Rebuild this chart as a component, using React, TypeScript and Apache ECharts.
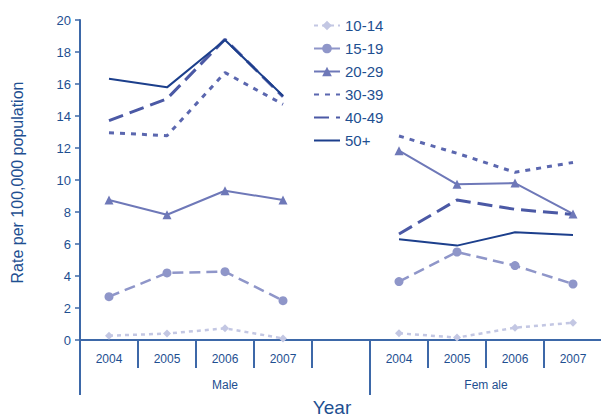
import React, { useEffect, useRef } from "react";
import * as echarts from "echarts";

const categories = ["2004", "2005", "2006", "2007", "", "2004", "2005", "2006", "2007"];
const groupLabels = ["Male", "Fem ale"];
const seriesNames = ["10-14", "15-19", "20-29", "30-39", "40-49", "50+"];
const s1014 = [0.27, 0.4, 0.73, 0.1, null, 0.42, 0.15, 0.77, 1.08];
const s1519 = [2.71, 4.19, 4.27, 2.46, null, 3.65, 5.5, 4.65, 3.5];
const s2029 = [8.75, 7.83, 9.33, 8.75, null, 11.83, 9.73, 9.81, 7.88];
const s3039 = [12.96, 12.77, 16.71, 14.73, null, 12.75, 11.67, 10.48, 11.1];
const s4049 = [13.71, 15.08, 18.8, 15.2, null, 6.63, 8.75, 8.17, 7.85];
const s50p = [16.33, 15.79, 18.75, 15.27, null, 6.29, 5.9, 6.73, 6.56];

const TEXT = "#1e4f91";
const AXIS = "#3d68a8";

export default function App() {
  const ref = useRef<HTMLDivElement>(null);
  useEffect(() => {
    if (!ref.current) return;
    const chart = echarts.init(ref.current, undefined, { renderer: "svg" });
    const font = "Liberation Sans, Arial, sans-serif";
    const mk = (
      name: string,
      data: (number | null)[],
      color: string,
      width: number,
      type: any,
      symbol: string,
      symbolSize: number
    ) => ({
      name,
      type: "line",
      data,
      xAxisIndex: 0,
      yAxisIndex: 0,
      connectNulls: false,
      symbol,
      symbolSize,
      showSymbol: symbol !== "none",
      itemStyle: { color },
      lineStyle: { color, width, type },
    });
    chart.setOption({
      animation: false,
      textStyle: { fontFamily: font },
      grid: { left: 80, top: 20, width: 522, height: 320, outerBoundsMode: "none", containLabel: false },
      legend: {
        orient: "vertical",
        left: 308,
        top: 13,
        itemWidth: 26,
        itemHeight: 12,
        itemGap: 8,
        textStyle: { color: TEXT, fontSize: 15, fontFamily: font },
        data: seriesNames.map((n, i) =>
          i >= 3 ? { name: n, itemStyle: { opacity: 0 } } : { name: n }
        ),
      },
      xAxis: [
        {
          type: "category",
          data: categories,
          boundaryGap: true,
          axisLine: { lineStyle: { color: AXIS, width: 2 } },
          axisTick: { show: true, length: 28, lineStyle: { color: AXIS, width: 2 } },
          axisLabel: { color: TEXT, fontSize: 12, margin: 13, interval: 0 },
          name: "Year",
          nameLocation: "middle",
          nameGap: 58,
          nameTextStyle: { color: TEXT, fontSize: 19, padding: [0, 18, 0, 0] },
        },
        {
          type: "value",
          min: 0,
          max: 9,
          position: "bottom",
          axisLine: { show: false },
          splitLine: { show: false },
          axisTick: {
            show: true,
            length: 55,
            customValues: [0, 5],
            lineStyle: { color: AXIS, width: 2 },
          },
          axisLabel: {
            show: true,
            customValues: [2.5, 7],
            margin: 39,
            color: TEXT,
            fontSize: 12,
            formatter: (v: number) => (v < 5 ? groupLabels[0] : groupLabels[1]),
          },
        },
      ],
      yAxis: {
        type: "value",
        min: 0,
        max: 20,
        interval: 2,
        splitLine: { show: false },
        axisLine: { show: true, lineStyle: { color: AXIS, width: 2 } },
        axisTick: { show: true, length: 5, lineStyle: { color: AXIS, width: 1.5 } },
        axisLabel: { color: TEXT, fontSize: 13, margin: 9 },
        name: "Rate per 100,000 population",
        nameLocation: "middle",
        nameGap: 55,
        nameTextStyle: { color: TEXT, fontSize: 16, padding: [0, 5, 0, 0] },
      },
      series: [
        mk(seriesNames[0], s1014, "#c3c7e3", 2.5, [4, 4], "diamond", 8),
        mk(seriesNames[1], s1519, "#8f96c9", 2.5, [11, 6], "circle", 9),
        mk(seriesNames[2], s2029, "#6e78b8", 2, "solid", "triangle", 9),
        mk(seriesNames[3], s3039, "#5b67af", 3, [5, 6], "none", 0),
        mk(seriesNames[4], s4049, "#4b59a5", 3, [15, 7], "none", 0),
        mk(seriesNames[5], s50p, "#1c3f8c", 2, "solid", "none", 0),
      ],
    });
    return () => chart.dispose();
  }, []);
  return (
    <div
      ref={ref}
      style={{ position: "absolute", left: 0, top: 0, width: 601, height: 418 }}
    />
  );
}
